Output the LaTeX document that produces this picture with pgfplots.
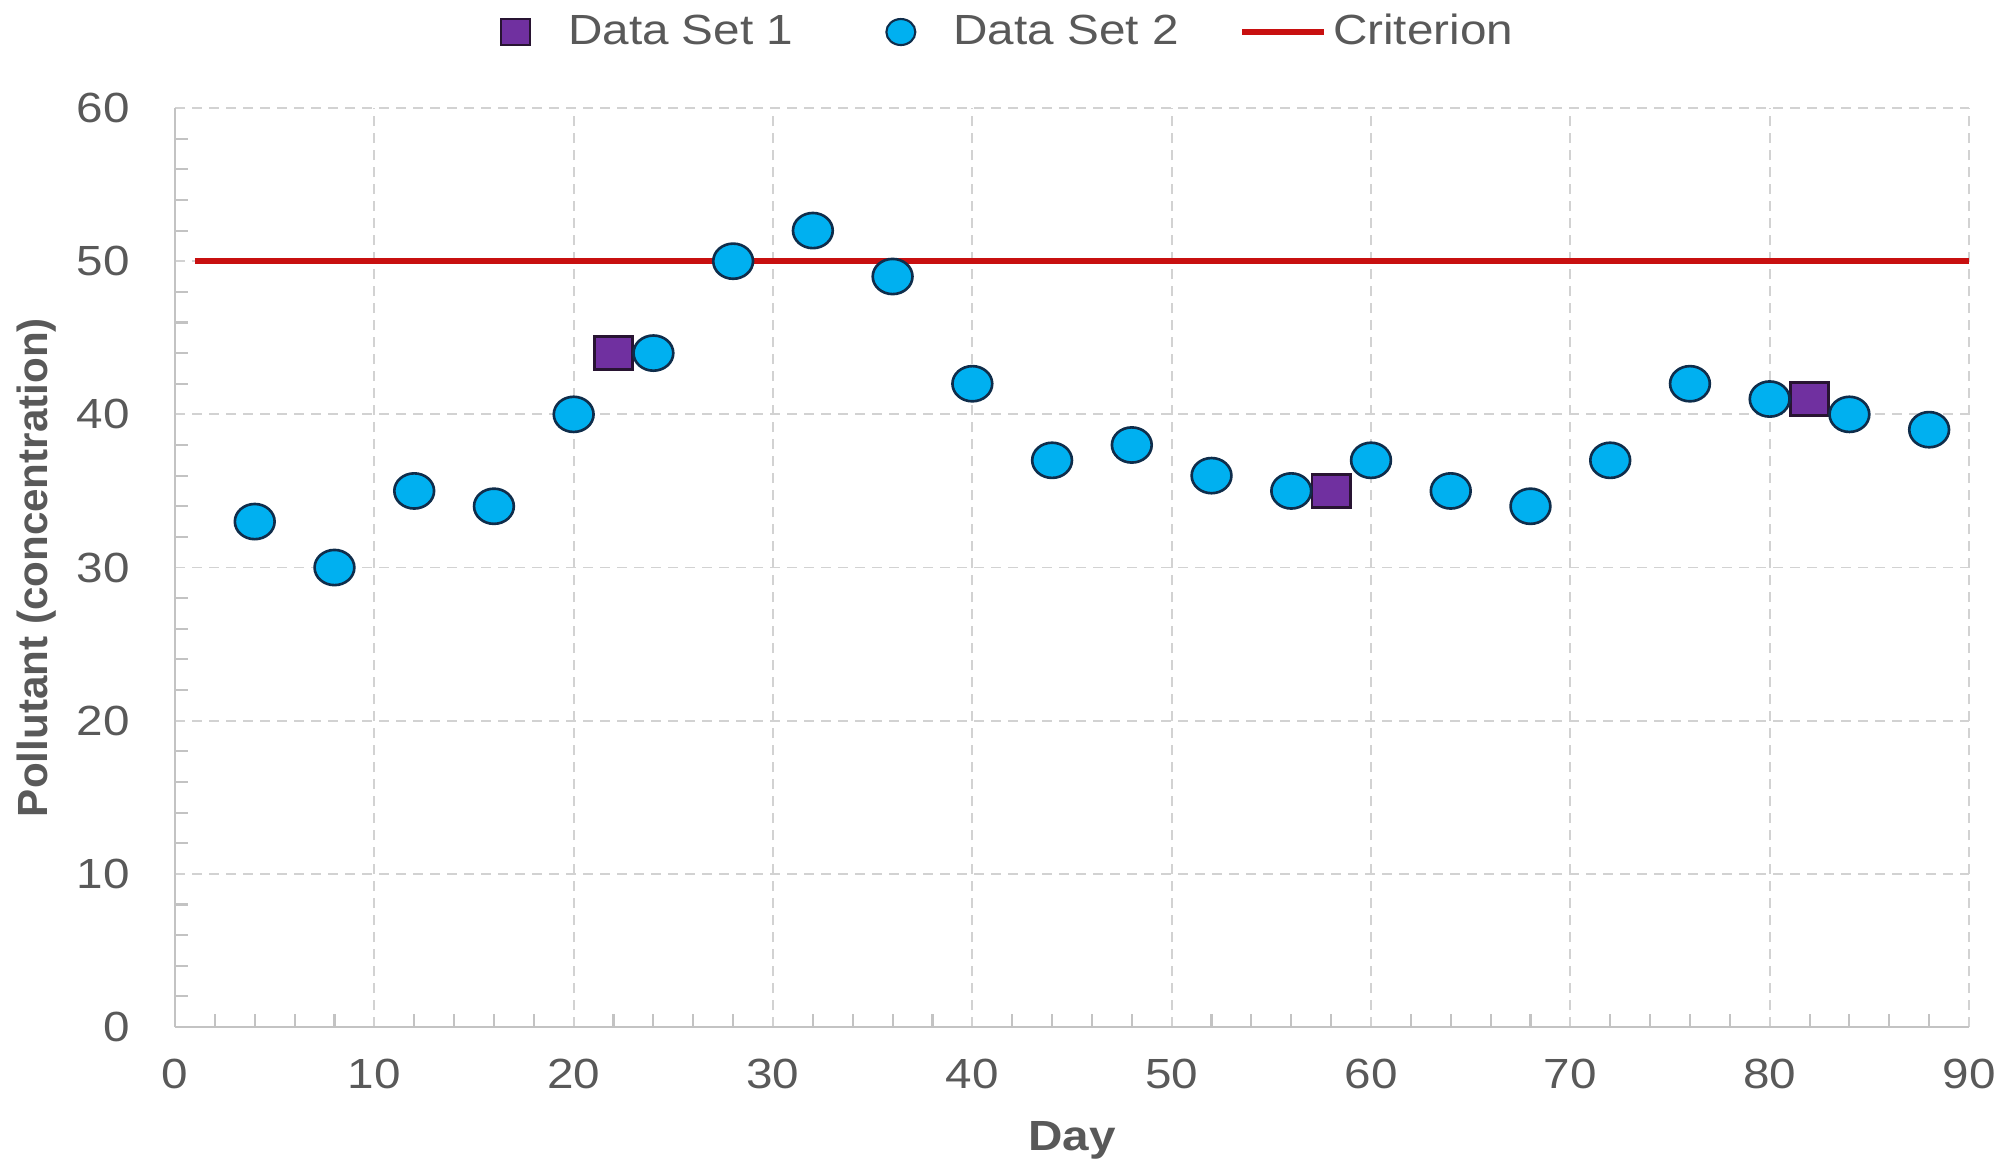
\documentclass[border=0pt]{standalone}
\usepackage{fontspec}
\setmainfont{Liberation Sans}[FakeStretch=1.13]
\newfontfamily\plainfont{Liberation Sans}
\usepackage{pgfplots}
\pgfplotsset{compat=1.18}
\definecolor{cyanfill}{RGB}{0,176,240}
\definecolor{cyanedge}{RGB}{15,45,75}
\definecolor{purplefill}{RGB}{112,48,160}
\definecolor{purpleedge}{RGB}{40,20,50}
\definecolor{critred}{RGB}{200,16,16}
\definecolor{gridgray}{RGB}{210,210,210}
\definecolor{axisgray}{RGB}{195,195,195}
\definecolor{textgray}{RGB}{89,89,89}
\begin{document}
\begin{tikzpicture}
\path (-17.5mm,-14.0mm) rectangle (184.1mm,102.7mm);
\begin{axis}[
  at={(0,0)}, anchor=south west,
  scale only axis, width=179.4mm, height=91.9mm,
  xmin=0, xmax=90, ymin=0, ymax=60,
  xtick={0,10,...,90}, ytick={0,10,...,60},
  minor x tick num=4, minor y tick num=4,
  axis lines*=left,
  axis line style={axisgray, line width=0.8pt},
  tick align=inside,
  major tick length=0pt,
  minor tick length=1.3mm,
  minor tick style={axisgray, line width=0.6pt},
  grid=major,
  major grid style={gridgray, line width=0.55pt, dash pattern=on 1mm off 0.7mm},
  /pgf/number format/assume math mode=true,
  tick label style={font=\fontsize{12}{14}\selectfont, text=textgray},
  xticklabel style={yshift=-2mm},
  yticklabel style={xshift=-3.3mm},
  every axis x label/.style={at={(axis description cs:0.5,0)}, yshift=-12.3mm, anchor=base},
  every axis y label/.style={at={(axis description cs:0,0.5)}, xshift=-12.7mm, rotate=90, anchor=base},
  xlabel={\fontsize{12}{14}\selectfont\bfseries Day},
  ylabel={\plainfont\fontsize{12}{14}\selectfont\bfseries Pollutant (concentration)},
  label style={text=textgray},
  legend columns=3,
  legend style={draw=none, fill=none, inner sep=0pt, outer sep=0pt,
     nodes={inner sep=0pt},
     at={(axis description cs:0,1)}, anchor=west, xshift=32.5mm, yshift=7.6mm,
     font=\fontsize{12}{14}\selectfont, text=textgray,
     column sep=0pt,
     /tikz/every odd column/.append style={column sep=3.7mm},
     /tikz/every even column/.append style={column sep=9.2mm}},
]
\addplot[critred, line width=1.7pt, forget plot] coordinates {(1,50) (90,50)};
\addplot[only marks, mark=square*, mark size=1.66mm,
  mark options={xscale=1.15, fill=purplefill, draw=purpleedge, line width=0.75pt},
  legend image code/.code={\draw[fill=purplefill, draw=purpleedge, line width=0.6pt] (0mm,-1.3mm) rectangle (2.9mm,1.3mm);}]
  coordinates {(22,44) (58,35) (82,41)};
\addlegendentry{Data Set 1}
\addplot[only marks, mark=*, mark size=1.76mm,
  mark options={xscale=1.13, fill=cyanfill, draw=cyanedge, line width=0.75pt},
  legend image code/.code={\draw[fill=cyanfill, draw=cyanedge, line width=0.6pt] (1.45mm,0) ellipse [x radius=1.45mm, y radius=1.3mm];}]
  coordinates {(4,33) (8,30) (12,35) (16,34) (20,40) (24,44) (28,50) (32,52) (36,49) (40,42) (44,37) (48,38) (52,36) (56,35) (60,37) (64,35) (68,34) (72,37) (76,42) (80,41) (84,40) (88,39)};
\addlegendentry{Data Set 2}
\addlegendimage{legend image code/.code={\path (0,0) (2.4mm,0); \draw[overlay, critred, line width=1.7pt] (-2.9mm,0) -- (5.3mm,0);}}
\addlegendentry{Criterion}
\end{axis}
\end{tikzpicture}
\end{document}
